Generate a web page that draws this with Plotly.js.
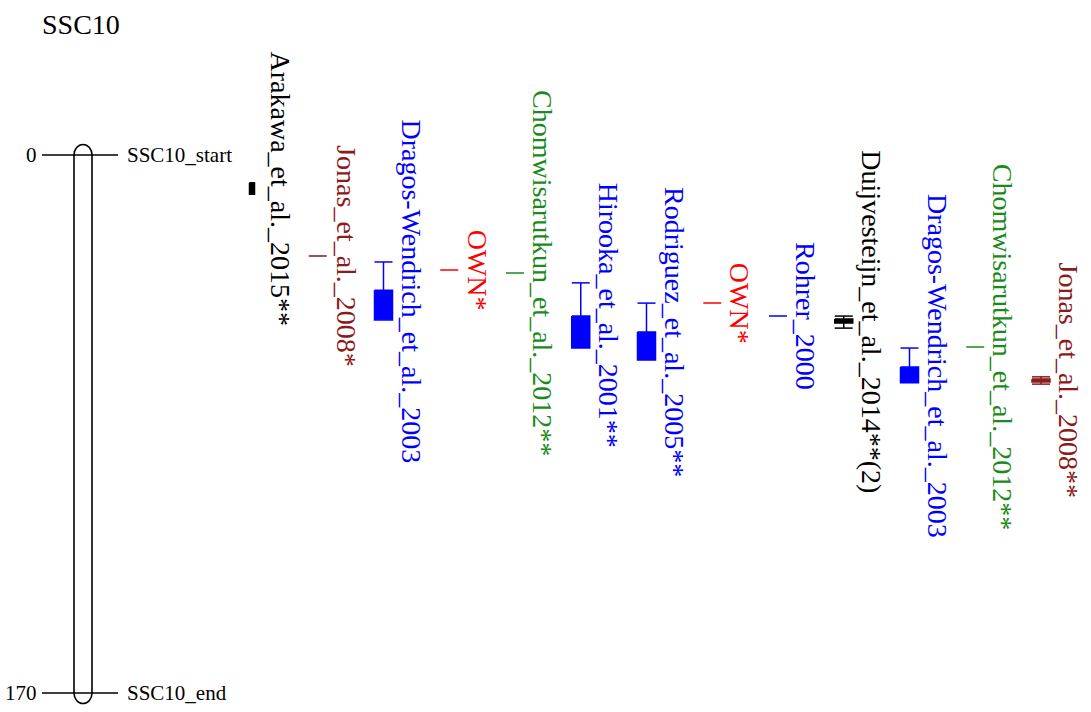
<!DOCTYPE html>
<html><head><meta charset="utf-8">
<script src="https://cdn.plot.ly/plotly-3.0.1.min.js"></script>
<style>html,body{margin:0;padding:0;background:#fff}#chart{width:1091px;height:712px}</style>
</head><body><div id="chart"></div>
<script>
// ---- data ----
const chromName = "SSC10";
const chromStart = 0;
const chromEnd = 170;
const chromTickPositions = [0, 170];
const chromTickNumbers = ["0", "170"];
const chromTickLabels = ["SSC10_start", "SSC10_end"];

const qtlLabels = [
  "Arakawa_et_al._2015**",
  "Jonas_et_al._2008*",
  "Dragos-Wendrich_et_al._2003",
  "OWN*",
  "Chomwisarutkun_et_al._2012**",
  "Hirooka_et_al._2001**",
  "Rodriguez_et_al._2005**",
  "OWN*",
  "Rohrer_2000",
  "Duijvesteijn_et_al._2014**(2)",
  "Dragos-Wendrich_et_al._2003",
  "Chomwisarutkun_et_al._2012**",
  "Jonas_et_al._2008**"
];
const qtlColors = [
  "#000000", "#8B1A1A", "#0000FF", "#FF0000", "#1A8A1A", "#0000FF", "#0000FF",
  "#FF0000", "#0000FF", "#000000", "#0000FF", "#1A8A1A", "#8B1A1A"
];
// 2-LOD (whisker) and 1-LOD (box) intervals, cM
const lod2Start = [8.8, 31.9, 33.8, 36.3, 37.3, 40.4, 46.8, 46.8, 50.9, 50.9, 61.0, 60.7, 70.1];
const lod1Start = [8.8, 31.9, 42.7, 36.3, 37.3, 50.9, 55.9, 46.8, 50.9, 51.8, 67.0, 60.7, 70.8];
const lod1End   = [12.4, 31.9, 52.1, 36.3, 37.3, 61.0, 64.8, 46.8, 50.9, 53.1, 72.0, 60.7, 71.7];
const lod2End   = [12.4, 31.9, 52.1, 36.3, 37.3, 61.0, 64.8, 46.8, 50.9, 54.7, 72.0, 60.7, 72.4];

// ---- styling / geometry (pixels) ----
const W = 1091, H = 712;
const col0 = 252, colStep = 65.75;          // pixel of first QTL column, spacing
const yTop = 155, yBot = 693;               // pixel of 0 and 170 cM
const boxWidthPx = [5, 18, 18, 18, 18, 18, 18, 18, 18, 18, 18, 18, 18];
const k = (yBot - yTop) / (chromEnd - chromStart);
const pxX = p => (p - col0) / colStep;      // pixel -> x data
const dX = p => p / colStep;                // pixel length -> x data
const dY = p => p / k;                      // pixel length -> cM

const serif = "Liberation Serif, Times New Roman, serif";
const traces = [];
const annotations = [];

// chromosome
const cx = pxX(83), crx = dX(9), cry = dY(10.5), c = 0.5523;
const xl = cx - crx, xr = cx + crx;
const chromPath =
  `M ${xl},${chromStart} C ${xl},${chromStart - c*cry} ${cx - c*crx},${chromStart - cry} ${cx},${chromStart - cry} ` +
  `C ${cx + c*crx},${chromStart - cry} ${xr},${chromStart - c*cry} ${xr},${chromStart} ` +
  `L ${xr},${chromEnd} C ${xr},${chromEnd + c*cry} ${cx + c*crx},${chromEnd + cry} ${cx},${chromEnd + cry} ` +
  `C ${cx - c*crx},${chromEnd + cry} ${xl},${chromEnd + c*cry} ${xl},${chromEnd} Z`;
const shapes = [{type: "path", xref: "x", yref: "y", path: chromPath, line: {color: "#000", width: 1.6}}];

// tick lines + labels
chromTickPositions.forEach((pos, i) => {
  traces.push({type: "scatter", mode: "lines", x: [pxX(42), pxX(118)], y: [pos, pos],
    line: {color: "#000", width: 1.5}, hoverinfo: "skip"});
  annotations.push({x: pxX(39), y: pos, xref: "x", yref: "y", text: chromTickNumbers[i],
    showarrow: false, xanchor: "right", yanchor: "middle", font: {family: serif, size: 21, color: "#000"}});
  annotations.push({x: pxX(125), y: pos, xref: "x", yref: "y", text: chromTickLabels[i],
    showarrow: false, xanchor: "left", yanchor: "middle", font: {family: serif, size: 21, color: "#000"}});
});

// QTLs
qtlLabels.forEach((lab, i) => {
  const col = qtlColors[i];
  const boxHalf = dX(boxWidthPx[i] / 2);
  const capHalf = dX(9);
  const x0 = i - boxHalf, x1 = i + boxHalf;
  // whiskers
  const wx = [], wy = [];
  if (lod2Start[i] < lod1Start[i]) {
    wx.push(i - capHalf, i + capHalf, null, i, i, null); wy.push(lod2Start[i], lod2Start[i], null, lod2Start[i], lod1Start[i], null);
  }
  if (lod2End[i] > lod1End[i]) {
    wx.push(i, i, null, i - capHalf, i + capHalf, null); wy.push(lod1End[i], lod2End[i], null, lod2End[i], lod2End[i], null);
  }
  if (wx.length) traces.push({type: "scatter", mode: "lines", x: wx, y: wy,
    line: {color: col, width: 1.5}, hoverinfo: "skip"});
  // box
  traces.push({type: "scatter", mode: "lines", fill: "toself", fillcolor: col,
    x: [x0, x1, x1, x0, x0], y: [lod1Start[i], lod1Start[i], lod1End[i], lod1End[i], lod1Start[i]],
    line: {color: col, width: 1.5}, hoverinfo: "skip"});
  // label
  annotations.push({x: i + dX(28), y: (lod2Start[i] + lod2End[i]) / 2, xref: "x", yref: "y",
    text: lab, showarrow: false, textangle: 90, xanchor: "center", yanchor: "middle",
    font: {family: serif, size: 28, color: col}});
});

const layout = {
  width: W, height: H,
  margin: {l: 0, r: 0, t: 0, b: 0},
  paper_bgcolor: "#fff", plot_bgcolor: "#fff",
  showlegend: false,
  title: {text: chromName, x: 42 / W, xanchor: "left", y: 1 - 24 / H, yanchor: "middle",
    font: {family: serif, size: 28, color: "#000"}},
  xaxis: {range: [pxX(0), pxX(W)], visible: false, fixedrange: true},
  yaxis: {range: [chromStart + dY(H - yTop), chromStart - dY(yTop)], visible: false, fixedrange: true},
  shapes: shapes,
  annotations: annotations
};

Plotly.newPlot("chart", traces, layout, {displayModeBar: false, staticPlot: true});
</script>
</body></html>
